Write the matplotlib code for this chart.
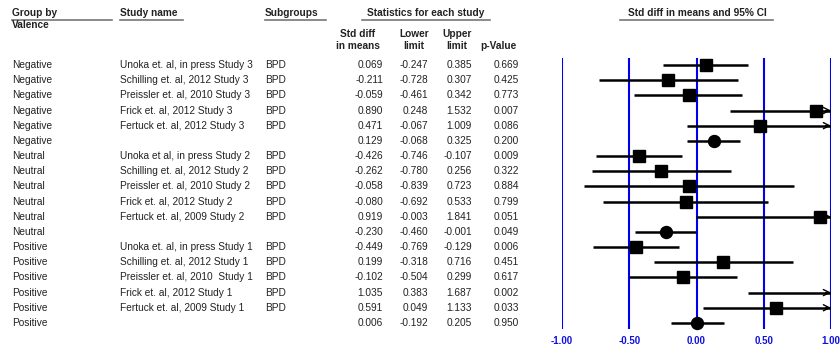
import matplotlib.pyplot as plt
import matplotlib.transforms as mtransforms

plt.rcParams['font.family'] = ['Liberation Sans', 'DejaVu Sans']

# one row per line of the table; empty study name = subgroup summary
valence = ["Negative"] * 6 + ["Neutral"] * 6 + ["Positive"] * 6
study = [
    "Unoka et. al, in press Study 3", "Schilling et. al, 2012 Study 3",
    "Preissler et. al, 2010 Study 3", "Frick et. al, 2012 Study 3",
    "Fertuck et. al, 2012 Study 3", "",
    "Unoka et al, in press Study 2", "Schilling et. al, 2012 Study 2",
    "Preissler et. al, 2010 Study 2", "Frick et. al, 2012 Study 2",
    "Fertuck et. al, 2009 Study 2", "",
    "Unoka et. al, in press Study 1", "Schilling et. al, 2012 Study 1",
    "Preissler et. al, 2010  Study 1", "Frick et. al, 2012 Study 1",
    "Fertuck et. al, 2009 Study 1", "",
]
subgroup = ["BPD"] * 5 + [""] + ["BPD"] * 5 + [""] + ["BPD"] * 5 + [""]
smd = [0.069, -0.211, -0.059, 0.890, 0.471, 0.129,
       -0.426, -0.262, -0.058, -0.080, 0.919, -0.230,
       -0.449, 0.199, -0.102, 1.035, 0.591, 0.006]
lower = [-0.247, -0.728, -0.461, 0.248, -0.067, -0.068,
         -0.746, -0.780, -0.839, -0.692, -0.003, -0.460,
         -0.769, -0.318, -0.504, 0.383, 0.049, -0.192]
upper = [0.385, 0.307, 0.342, 1.532, 1.009, 0.325,
         -0.107, 0.256, 0.723, 0.533, 1.841, -0.001,
         -0.129, 0.716, 0.299, 1.687, 1.133, 0.205]
pval = [0.669, 0.425, 0.773, 0.007, 0.086, 0.200,
        0.009, 0.322, 0.884, 0.799, 0.051, 0.049,
        0.006, 0.451, 0.617, 0.002, 0.033, 0.950]
xticks = [-1.0, -0.5, 0.0, 0.5, 1.0]

W, H = 840, 347
fig = plt.figure(figsize=(W / 100, H / 100), dpi=100)

# forest panel, placed in pixel terms
x0, x1, ytop, ybot = 562, 831, 58, 329
ax = fig.add_axes([x0 / W, 1 - ybot / H, (x1 - x0) / W, (ybot - ytop) / H])
n = len(smd)
ax.set_xlim(-1, 1)
ax.set_ylim(n - 1 + 0.40, -0.46)
for s in ax.spines.values():
    s.set_visible(False)
ax.set_yticks([])
ax.set_xticks(xticks)
ax.set_xticklabels([f"{t:.2f}" for t in xticks], color="#1010e0",
                   fontweight="bold", fontsize=7)
ax.tick_params(axis="x", length=0, pad=5)
for t in xticks:
    ax.axvline(t, color="#0000ee", lw=1.5, zorder=1)

for i in range(n):
    lo, hi = lower[i], min(upper[i], 1)
    ax.plot([lo, hi], [i, i], color="black", lw=1.8, zorder=3,
            solid_capstyle="butt")
    if upper[i] > 1:
        # open arrowhead where the interval runs off the scale
        ax.annotate("", xy=(1, i), xytext=(0.96, i),
                    arrowprops=dict(arrowstyle="->", lw=1.0, color="black",
                                    shrinkA=0, shrinkB=0,
                                    mutation_scale=11), zorder=3)
    if -1 <= smd[i] <= 1:
        summary = study[i] == ""
        ax.plot(smd[i], i, marker="o" if summary else "s", ms=8.6,
                color="black", zorder=4, clip_on=False)

# table text in figure-x / row-y coordinates
tr = mtransforms.blended_transform_factory(fig.transFigure, ax.transData)
tc = "#222222"
fs = 7.3
for i in range(n):
    fig.text(12 / W, i, valence[i], transform=tr, fontsize=fs, color=tc, va="center")
    fig.text(120 / W, i, study[i], transform=tr, fontsize=fs, color=tc, va="center")
    fig.text(265 / W, i, subgroup[i], transform=tr, fontsize=fs, color=tc, va="center")
    for xr, v in zip([383, 428, 472, 519], [smd[i], lower[i], upper[i], pval[i]]):
        fig.text(xr / W, i, f"{v:.3f}", transform=tr, fontsize=fs, color=tc,
                 va="center", ha="right")


def px_text(x, y, s, **kw):
    fig.text(x / W, 1 - y / H, s, fontsize=fs, color=tc, fontweight="bold",
             va="center", **kw)


def px_line(xa, xb, y):
    fig.add_artist(plt.Line2D([xa / W, xb / W], [1 - y / H, 1 - y / H],
                              color="#777777", lw=1.2))


# column headers
px_text(12, 13, "Group by")
px_text(12, 25, "Valence")
px_line(12, 112, 20)
px_text(120, 13, "Study name")
px_line(120, 183, 20)
px_text(265, 13, "Subgroups")
px_line(265, 326, 20)
px_text(426, 13, "Statistics for each study", ha="center")
px_line(362, 490, 20)
px_text(697, 13, "Std diff in means and 95% CI", ha="center")
px_line(620, 773, 20)

px_text(358, 34, "Std diff", ha="center")
px_text(358, 46, "in means", ha="center")
px_text(414, 34, "Lower", ha="center")
px_text(414, 46, "limit", ha="center")
px_text(457, 34, "Upper", ha="center")
px_text(457, 46, "limit", ha="center")
px_text(498, 46, "p-Value", ha="center")

fig.savefig("out.png", dpi=100)
